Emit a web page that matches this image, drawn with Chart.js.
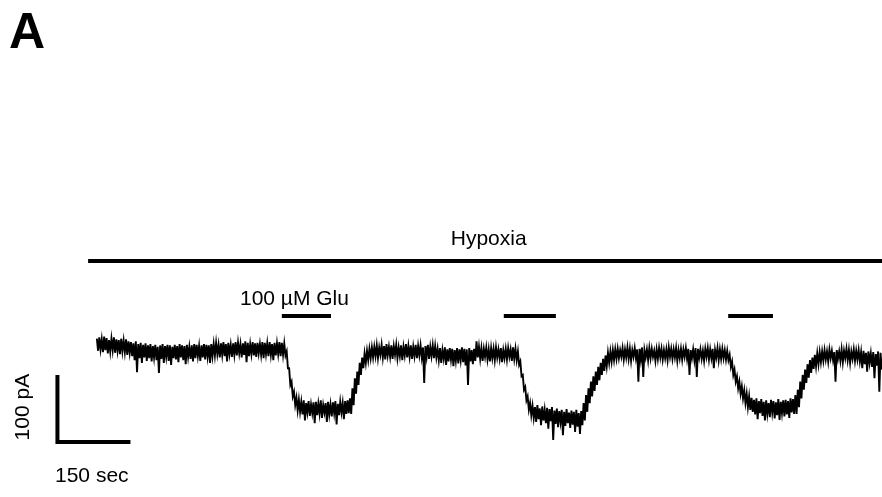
<!DOCTYPE html>
<html>
<head>
<meta charset="utf-8">
<script src="https://cdn.jsdelivr.net/npm/chart.js@4.4.1/dist/chart.umd.min.js"></script>
<style>
  html, body { margin: 0; padding: 0; background: #fff; }
  #wrap { width: 882px; height: 497px; position: relative; }
</style>
</head>
<body>
<div id="wrap"><canvas id="trace"></canvas></div>
<script>
// whole-cell current, read off the figure as high/low envelope per 5 s bin
// (pA, 0 = resting level before glutamate)
const sampleStep = 5; // sec
const traceHigh = [
    // baseline
    14, 16, 13, 17, 15, 12, 14, 16, 13, 12, 14, 11, 13, 10,
    9, 7, 10, 6, 8, 5, 7,
    4, 6, 3, 5, 2, 4, 6, 3, 5, 4, 2, 5, 3, 6, 4, 3, 5, 2, 4, 6, 5, 3, 4, 6, 5, 4, 6,
    6, 8, 5, 7, 9, 6, 8, 5, 7, 9, 8, 6, 7, 10, 8, 6, 9, 7, 8, 6, 9, 8, 7, 9, 6, 8, 7, 9, 8, 7,
    // 1st glutamate
    -5, -30, -50, -65, -74,
    -77, -80, -78, -82, -79, -84, -81, -80, -83, -78, -85, -82, -80, -84, -81, -79, -83, -80, -82, -79, -78,
    -75, -60, -45, -35, -22, -14, -8, -4, -1, 1,
    2, 4, 1, 5, 3, 6, 2, 4, 3, 5, 1, 4, 2, 6, 3, 4, 2, 5, 3, 4, 1, 3, 5, 2, 4, 3,
    -1, 0, -3, 1, -2, 0, -1, -3, 0, -2, 1, -1, -2, 0, -3, -1,
    10, 2, 0, -1, 1, -2, 0, -1, 1, -2, 0, -3, -1, 0, -2, 1, -1,
    // 2nd glutamate
    -5, -20, -40, -58, -72, -82,
    -86, -88, -85, -90, -87, -92, -89, -91, -88, -93, -90, -94, -92, -95, -91, -96, -93, -95, -92, -97, -94,
    -82, -70, -60, -50, -42, -35, -28, -22, -16, -11, -7, -5, -3, -2,
    -1, -3, 0, -2, 1, -1, -3, 0, -2, -1, 1, -3, -2, 0, -1, -4, -2, 0, -1, -3,
    -2, 1, -1, -2, 0, -3, -1, -2, 0, -1, -3, -2, 0, -1, -2, -4, -1, 0, -2, -1, -3, 0, -2, -1, -3,
    // 3rd glutamate
    -4, -10, -20, -32, -42, -50, -57, -63, -68, -72,
    -74, -77, -75, -79, -76, -80, -78, -82, -77, -79, -81, -76, -80, -78, -77, -79, -75, -76,
    -70, -62, -50, -40, -32, -24, -18, -14, -10, -8, -6, -5,
    -3, -5, -2, -4, -6, -3, -5, -2, -4, -1, -3, -5, -2, -4, -3, -6, -4, -7, -5, -8, -6, -9, -5, -7
];
const traceLow = [
    -4, -2, -6, -3, -8, -5, -3, -7, -4, -9, -5, -6, -10, -7,
    -12, -18, -36, -15, -22, -14, -19,
    -15, -20, -14, -18, -37, -16, -22, -13, -19, -25, -15, -17, -21, -14, -18, -24, -13, -16, -20, -15, -12, -19, -14, -17, -13, -22, -12,
    -11, -9, -14, -10, -12, -20, -9, -13, -10, -11, -8, -14, -10, -21, -12, -9, -11, -13, -8, -10, -15, -9, -12, -10, -18, -11, -9, -12, -10, -11,
    -30, -55, -72, -85, -93,
    -95, -99, -108, -96, -101, -97, -112, -100, -98, -104, -96, -110, -99, -102, -97, -114, -100, -96, -106, -98, -97,
    -98, -85, -68, -55, -40, -30, -22, -18, -15, -14,
    -12, -15, -10, -14, -17, -11, -13, -16, -10, -15, -12, -18, -11, -14, -13, -16, -12, -15, -11, -14, -52, -13, -16, -12, -15, -14,
    -18, -22, -16, -25, -20, -17, -27, -19, -23, -18, -21, -26, -55, -20, -24, -19,
    -14, -16, -19, -13, -17, -20, -15, -18, -14, -16, -21, -15, -17, -13, -19, -16, -18,
    -25, -42, -62, -78, -92, -100,
    -104, -110, -106, -115, -108, -112, -120, -109, -137, -113, -118, -110, -130, -116, -112, -119, -114, -125, -117, -128, -115,
    -108, -95, -82, -72, -64, -55, -48, -40, -34, -27, -22, -20, -18, -16,
    -15, -13, -17, -14, -16, -19, -13, -15, -50, -17, -43, -14, -18, -15, -13, -19, -16, -14, -17, -15,
    -18, -13, -16, -14, -19, -15, -17, -13, -16, -40, -15, -18, -43, -14, -16, -19, -13, -17, -15, -30, -14, -18, -16, -15, -17,
    -18, -28, -40, -50, -60, -68, -75, -82, -88, -92,
    -95, -99, -106, -97, -101, -108, -98, -103, -96, -105, -100, -107, -97, -102, -99, -104, -96, -98,
    -98, -88, -75, -62, -52, -44, -37, -31, -27, -24, -21, -19,
    -17, -20, -15, -18, -50, -16, -19, -21, -15, -18, -22, -16, -19, -17, -20, -30, -24, -35, -22, -28, -45, -26, -65, -32
];

// application periods (sec)
const hypoxiaPeriod = [-18, 1613];
const gluStart = [380, 836, 1297];
const gluEnd = [481, 943, 1389];

// scale bar size
const scaleSec = 150;
const scalePA = 100;

const FONT = '"Liberation Sans", Arial, sans-serif';

// zig-zag between the envelope values so the trace reads as dense noise
const tracePoints = [];
traceHigh.forEach((hi, i) => {
    const t = i * sampleStep;
    tracePoints.push({ x: t, y: hi });
    tracePoints.push({ x: t + sampleStep / 2, y: traceLow[i] });
});

const hypoxiaLevel = 130;
const gluLevel = 48;
const scaleOrigin = { x: -81, y: -140 };

const barDatasets = gluStart.map((s, i) => ({
    data: [{ x: s, y: gluLevel }, { x: gluEnd[i], y: gluLevel }],
    borderColor: '#000',
    borderWidth: 4,
    pointRadius: 0
}));

const labels = [
    { text: 'Hypoxia', x: 805, y: 154, align: 'center' },
    { text: '100 µM Glu', x: 294, y: 64, align: 'left' },
    { text: '150 sec', x: -86, y: -200, align: 'left' },
    { text: '100 pA', x: -139, y: -88, align: 'center', rotate: true }
];

const labelPlugin = {
    id: 'labels',
    afterDatasetsDraw(chart) {
        const { ctx, scales } = chart;
        ctx.save();
        ctx.fillStyle = '#000';
        ctx.font = 'bold 50px ' + FONT;
        ctx.textAlign = 'left';
        ctx.textBaseline = 'alphabetic';
        ctx.fillText('A', 9, 48);

        ctx.font = '21px ' + FONT;
        labels.forEach(l => {
            const px = scales.x.getPixelForValue(l.x);
            const py = scales.y.getPixelForValue(l.y);
            ctx.textAlign = l.align;
            if (l.rotate) {
                ctx.save();
                ctx.translate(px, py);
                ctx.rotate(-Math.PI / 2);
                ctx.fillText(l.text, 0, 0);
                ctx.restore();
            } else {
                ctx.fillText(l.text, px, py);
            }
        });
        ctx.restore();
    }
};

new Chart(document.getElementById('trace'), {
    type: 'line',
    data: {
        datasets: [
            {
                data: tracePoints,
                borderColor: '#000',
                borderWidth: 1.9,
                pointRadius: 0,
                tension: 0
            },
            {
                data: [{ x: hypoxiaPeriod[0], y: hypoxiaLevel }, { x: hypoxiaPeriod[1], y: hypoxiaLevel }],
                borderColor: '#000',
                borderWidth: 4,
                pointRadius: 0
            },
            ...barDatasets,
            {
                data: [
                    { x: scaleOrigin.x, y: scaleOrigin.y + scalePA },
                    { x: scaleOrigin.x, y: scaleOrigin.y },
                    { x: scaleOrigin.x + scaleSec, y: scaleOrigin.y }
                ],
                borderColor: '#000',
                borderWidth: 4,
                borderJoinStyle: 'miter',
                pointRadius: 0
            }
        ]
    },
    options: {
        responsive: true,
        maintainAspectRatio: false,
        animation: false,
        layout: { padding: 0 },
        plugins: {
            legend: { display: false },
            tooltip: { enabled: false }
        },
        scales: {
            x: { type: 'linear', min: -199, max: 1613, display: false },
            y: { type: 'linear', min: -222, max: 519, display: false }
        }
    },
    plugins: [labelPlugin]
});
</script>
</body>
</html>
